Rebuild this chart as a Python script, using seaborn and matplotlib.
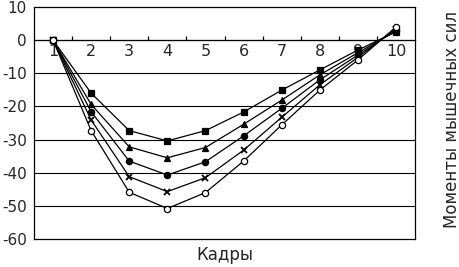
import matplotlib
matplotlib.use("Agg")
import matplotlib.pyplot as plt
import seaborn as sns
import pandas as pd
import numpy as np

frames = [1, 2, 3, 4, 5, 6, 7, 8, 9, 10]
series_a = [0, -16.0, -27.3, -30.4, -27.3, -21.7, -15.1, -9.0, -3.0, 2.5]
series_b = [0, -19.4, -32.2, -35.5, -32.4, -25.4, -18.1, -10.5, -3.8, 2.8]
series_c = [0, -21.6, -36.5, -40.7, -36.7, -28.9, -20.6, -12.0, -4.5, 3.0]
series_d = [0, -24.1, -41.2, -45.7, -41.5, -33.2, -23.3, -13.5, -5.2, 3.5]
series_e = [0, -27.3, -45.9, -50.8, -46.0, -36.5, -25.6, -15.1, -6.0, 4.0]
y_ticks = [10, 0, -10, -20, -30, -40, -50, -60]
x_label = "Кадры"
y_label = "Моменты мышечных сил"

sns.set_style("white")
plt.rcParams['font.family'] = ['DejaVu Sans']

fig = plt.figure(figsize=(4.6, 2.67), dpi=100)
ax = fig.add_axes([34/460, 1-239/267, (415-34)/460, (239-7)/267])

styles = [
    (series_a, 's', 'black', 4.5),
    (series_b, '^', 'black', 4.5),
    (series_c, 'o', 'black', 4.5),
    (series_d, 'x', 'black', 5),
    (series_e, 'o', 'white', 4.5),
]
for vals, mk, face, ms in styles:
    df = pd.DataFrame({"frame": frames, "value": vals})
    sns.lineplot(data=df, x="frame", y="value", ax=ax, color="black", lw=0.9,
                 marker=mk, markersize=ms, markerfacecolor=face,
                 markeredgecolor="black", markeredgewidth=1.3 if mk == 'x' else 0.9,
                 zorder=3)

ax.set_xlim(0.5, 10.5)
ax.set_ylim(-60, 10)
ax.set_yticks(y_ticks)
ax.set_yticklabels([str(t) for t in y_ticks], fontsize=11)
ax.tick_params(axis='y', length=0, pad=5)
ax.set_xticks([])
for yv in y_ticks[1:-1]:
    ax.axhline(yv, color='black', lw=0.8, zorder=1)
for s in ax.spines.values():
    s.set_color('black')
    s.set_linewidth(0.9)

sec = ax.secondary_xaxis(60/70)
sec.set_alignment('bottom')
sec.set_xticks(frames)
sec.set_xticklabels([str(f) for f in frames], fontsize=11.5)
sec.set_xticks([f + 0.5 for f in frames[:-1]], minor=True)
sec.tick_params(axis='x', which='major', length=0, pad=3)
sec.tick_params(axis='x', which='minor', length=3, direction='in', color='black', width=0.9)
sec.spines['bottom'].set_linewidth(0.9)

ax.set_xlabel(x_label, fontsize=12, labelpad=5)
ax.set_ylabel("")
fig.text(452/460, 1-120/267, y_label, rotation=90, ha='center', va='center', fontsize=12)

fig.savefig("out.png", dpi=100)
